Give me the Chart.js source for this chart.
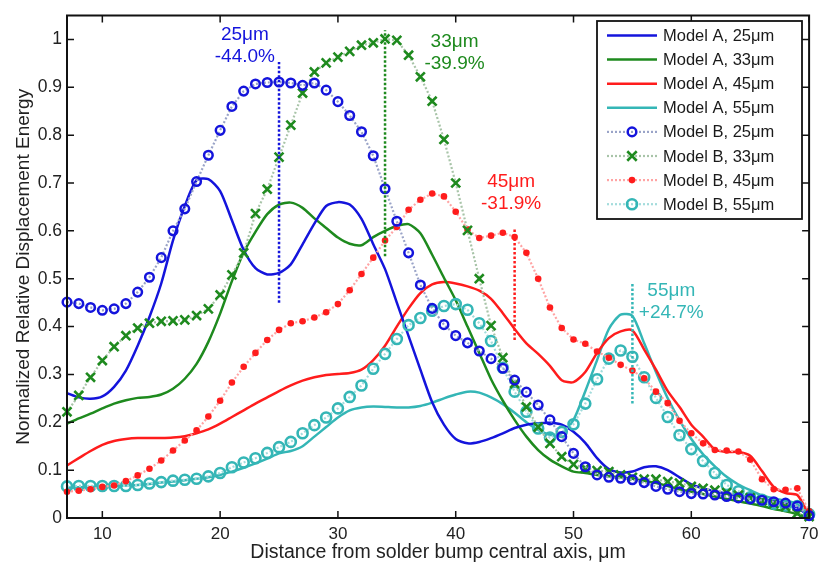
<!DOCTYPE html>
<html>
<head>
<meta charset="utf-8">
<script src="https://cdn.jsdelivr.net/npm/chart.js@4.4.0/dist/chart.umd.min.js"></script>
<style>
html, body { margin: 0; padding: 0; background: #fff; }
</style>
</head>
<body>
<canvas id="chartEnergia" width="818" height="564"></canvas>
<script>
// distancia desde el eje del bump (um)
const distancia = [7,8,9,10,11,12,13,14,15,16,17,18,19,20,21,22,23,24,25,26,27,28,29,30,31,32,33,34,35,36,37,38,39,40,41,42,43,44,45,46,47,48,49,50,51,52,53,54,55,56,57,58,59,60,61,62,63,64,65,66,67,68,69,70]

// Model A (curvas continuas)
const modeloA25 = [0.261,0.252,0.249,0.254,0.274,0.308,0.360,0.420,0.490,0.580,
    0.652,0.706,0.708,0.683,0.622,0.560,0.522,0.509,0.512,0.530,
    0.572,0.615,0.652,0.660,0.655,0.625,0.572,0.520,0.450,0.380,
    0.310,0.242,0.195,0.165,0.156,0.159,0.167,0.177,0.188,0.195,
    0.198,0.199,0.195,0.180,0.157,0.125,0.102,0.095,0.097,0.106,
    0.108,0.100,0.085,0.070,0.062,0.056,0.051,0.047,0.043,0.039,
    0.035,0.030,0.022,0.003]
const modeloA33 = [0.197,0.208,0.218,0.229,0.239,0.246,0.251,0.253,0.258,0.270,
    0.291,0.322,0.368,0.427,0.495,0.555,0.598,0.635,0.655,0.659,
    0.648,0.626,0.606,0.586,0.573,0.570,0.587,0.600,0.610,0.614,
    0.595,0.550,0.502,0.455,0.400,0.345,0.290,0.245,0.205,0.170,
    0.142,0.122,0.108,0.097,0.094,0.090,0.087,0.085,0.082,0.078,
    0.073,0.067,0.060,0.055,0.050,0.045,0.040,0.035,0.030,0.025,
    0.019,0.014,0.008,0.001]
const modeloA45 = [0.110,0.125,0.140,0.153,0.161,0.165,0.167,0.167,0.167,0.168,
    0.171,0.177,0.185,0.197,0.211,0.225,0.239,0.252,0.265,0.277,
    0.287,0.294,0.299,0.301,0.303,0.310,0.330,0.360,0.400,0.438,
    0.470,0.488,0.493,0.490,0.484,0.475,0.458,0.428,0.395,0.365,
    0.343,0.318,0.288,0.284,0.305,0.345,0.376,0.390,0.392,0.352,
    0.310,0.265,0.232,0.195,0.170,0.143,0.138,0.138,0.130,0.098,
    0.065,0.052,0.048,0.005]
const modeloA55 = [0.063,0.064,0.065,0.066,0.067,0.068,0.069,0.071,0.074,0.076,
    0.079,0.082,0.085,0.090,0.097,0.105,0.114,0.124,0.135,0.140,
    0.150,0.170,0.190,0.210,0.225,0.231,0.233,0.232,0.231,0.231,
    0.234,0.241,0.250,0.258,0.264,0.262,0.252,0.238,0.220,0.200,
    0.184,0.174,0.177,0.205,0.265,0.330,0.395,0.425,0.422,0.365,
    0.305,0.250,0.204,0.165,0.133,0.108,0.086,0.070,0.058,0.047,
    0.041,0.036,0.029,0.003]

// Model B (marcadores)
const modeloB25 = [0.451,0.448,0.440,0.434,0.437,0.448,0.472,0.503,0.544,0.600,
    0.646,0.703,0.758,0.810,0.860,0.892,0.907,0.910,0.911,0.909,
    0.904,0.909,0.894,0.870,0.841,0.807,0.757,0.688,0.620,0.554,
    0.487,0.438,0.404,0.381,0.366,0.349,0.333,0.313,0.288,0.263,
    0.236,0.205,0.170,0.135,0.107,0.090,0.085,0.083,0.080,0.074,
    0.066,0.060,0.055,0.051,0.050,0.048,0.045,0.042,0.040,0.037,
    0.034,0.031,0.025,0.005]
const modeloB33 = [0.222,0.256,0.294,0.329,0.358,0.381,0.397,0.407,0.411,0.412,
    0.414,0.423,0.437,0.466,0.508,0.554,0.636,0.687,0.754,0.821,
    0.888,0.932,0.951,0.963,0.975,0.988,0.993,1.001,0.998,0.967,
    0.922,0.871,0.791,0.700,0.601,0.500,0.402,0.335,0.281,0.232,
    0.190,0.156,0.128,0.112,0.104,0.099,0.097,0.090,0.085,0.081,
    0.081,0.076,0.073,0.066,0.062,0.058,0.053,0.048,0.042,0.036,
    0.030,0.024,0.010,0.003]
const modeloB45 = [0.055,0.057,0.060,0.065,0.068,0.077,0.089,0.103,0.120,0.141,
    0.162,0.183,0.212,0.245,0.283,0.316,0.345,0.372,0.393,0.407,
    0.411,0.419,0.430,0.447,0.476,0.510,0.544,0.580,0.608,0.644,
    0.665,0.678,0.672,0.640,0.603,0.585,0.590,0.596,0.587,0.554,
    0.500,0.440,0.397,0.373,0.364,0.348,0.335,0.320,0.308,0.292,
    0.264,0.240,0.203,0.177,0.156,0.142,0.141,0.139,0.122,0.081,
    0.060,0.059,0.062,0.014]
const modeloB55 = [0.066,0.067,0.067,0.067,0.067,0.067,0.069,0.072,0.075,0.078,
    0.080,0.082,0.087,0.094,0.106,0.116,0.125,0.136,0.148,0.159,
    0.177,0.194,0.210,0.229,0.253,0.277,0.312,0.343,0.374,0.403,
    0.418,0.433,0.443,0.447,0.435,0.407,0.370,0.314,0.264,0.222,
    0.187,0.168,0.180,0.196,0.239,0.290,0.333,0.350,0.337,0.294,
    0.251,0.211,0.173,0.144,0.119,0.094,0.069,0.056,0.043,0.038,
    0.030,0.026,0.025,0.008]

// marcas verticales punteadas y sus textos
const marcaX = [25, 34, 45, 55]
const marcaArriba = [0.953, 1.019, 0.606, 0.492]
const marcaAbajo = [0.450, 0.547, 0.372, 0.239]
const marcaTexto = [['25\u03bcm', '-44.0%'], ['33\u03bcm', '-39.9%'], ['45\u03bcm', '-31.9%'], ['55\u03bcm', '+24.7%']]
const textoX = [22.1, 39.9, 44.7, 58.3]
const textoY = [1.009, 0.995, 0.702, 0.474]

const xTicks = [10, 20, 30, 40, 50, 60, 70]
const yTicks = [0, 0.1, 0.2, 0.3, 0.4, 0.5, 0.6, 0.7, 0.8, 0.9, 1]
const yTickLabels = ['0', '0.1', '0.2', '0.3', '0.4', '0.5', '0.6', '0.7', '0.8', '0.9', '1']

const azul = '#1414dc'
const verde = '#1e8a1e'
const rojo = '#ff1c1c'
const cian = '#34b6b6'

const puntos = (valores) => valores.map((v, i) => ({ x: distancia[i], y: v }))

const lineaA = (label, valores, color) => ({
    label, data: puntos(valores), borderColor: color, backgroundColor: color,
    borderWidth: 2.5, pointRadius: 0, tension: 0.25, order: 2, tipo: 'linea'
})

const lineaB = (label, valores, color, colorLinea, estilo, radio, ancho, relleno) => ({
    label, data: puntos(valores), borderColor: colorLinea, borderWidth: 2.2, borderDash: [2, 2],
    pointStyle: estilo, pointRadius: radio, pointBorderColor: color, pointBorderWidth: ancho,
    pointBackgroundColor: relleno, tension: 0, order: 1, clip: false, tipo: 'marca'
})

const datasets = [
    lineaA('Model A, 25\u03bcm', modeloA25, azul),
    lineaA('Model A, 33\u03bcm', modeloA33, verde),
    lineaA('Model A, 45\u03bcm', modeloA45, rojo),
    lineaA('Model A, 55\u03bcm', modeloA55, cian),
    lineaB('Model B, 25\u03bcm', modeloB25, azul, '#9aa4c8', 'circle', 4.3, 2.5, 'rgba(0,0,0,0)'),
    lineaB('Model B, 33\u03bcm', modeloB33, verde, '#a8c4a8', 'crossRot', 6.3, 2.6, 'rgba(0,0,0,0)'),
    lineaB('Model B, 45\u03bcm', modeloB45, rojo, '#ffa4a4', 'circle', 3.3, 0, rojo),
    lineaB('Model B, 55\u03bcm', modeloB55, cian, '#a4dcdc', 'circle', 5, 2.6, 'rgba(0,0,0,0)')
]

const coloresMarca = [azul, verde, rojo, cian]
marcaX.forEach((mx, i) => {
    datasets.push({
        label: 'marca' + i,
        data: [{ x: mx, y: marcaAbajo[i] }, { x: mx, y: marcaArriba[i] }],
        borderColor: coloresMarca[i], borderWidth: 2.5, borderDash: [2.5, 2],
        pointRadius: 0, order: 0, clip: false, tipo: 'anotacion'
    })
})

const fuente = '"Liberation Sans", Arial, sans-serif'
Chart.defaults.font.family = fuente
Chart.defaults.color = '#222'

const dibujarMarca = (ctx, ds, x, y) => {
    ctx.save()
    ctx.strokeStyle = ds.pointBorderColor
    ctx.fillStyle = ds.pointBackgroundColor
    ctx.lineWidth = ds.pointBorderWidth
    if (ds.pointStyle === 'crossRot') {
        const r = ds.pointRadius * 0.75
        ctx.beginPath()
        ctx.moveTo(x - r, y - r); ctx.lineTo(x + r, y + r)
        ctx.moveTo(x + r, y - r); ctx.lineTo(x - r, y + r)
        ctx.stroke()
    } else {
        ctx.beginPath()
        ctx.arc(x, y, ds.pointRadius, 0, Math.PI * 2)
        ctx.fill()
        if (ds.pointBorderWidth > 0) ctx.stroke()
    }
    ctx.restore()
}

const marcoEjes = {
    id: 'marcoEjes',
    afterDatasetsDraw(chart) {
        const { ctx, chartArea: a, scales } = chart
        const sx = scales.x, sy = scales.y
        ctx.save()
        ctx.strokeStyle = '#111'
        ctx.lineWidth = 1.5
        ctx.beginPath()
        xTicks.forEach(v => {
            const px = sx.getPixelForValue(v)
            ctx.moveTo(px, a.bottom); ctx.lineTo(px, a.bottom - 7)
            ctx.moveTo(px, a.top); ctx.lineTo(px, a.top + 7)
        })
        yTicks.forEach(v => {
            const py = sy.getPixelForValue(v)
            ctx.moveTo(a.left, py); ctx.lineTo(a.left + 7, py)
            ctx.moveTo(a.right, py); ctx.lineTo(a.right - 7, py)
        })
        ctx.stroke()
        ctx.lineWidth = 2
        ctx.strokeRect(a.left, a.top, a.right - a.left, a.bottom - a.top)

        // textos de las marcas
        ctx.font = '19px ' + fuente
        ctx.textAlign = 'center'
        ctx.textBaseline = 'middle'
        marcaTexto.forEach((lineas, i) => {
            ctx.fillStyle = coloresMarca[i]
            const px = sx.getPixelForValue(textoX[i])
            const py = sy.getPixelForValue(textoY[i])
            lineas.forEach((t, j) => ctx.fillText(t, px, py + j * 22))
        })
        ctx.restore()
    },
    afterDraw(chart) {
        const { ctx } = chart
        const series = chart.data.datasets.filter(d => d.tipo !== 'anotacion')
        ctx.save()
        ctx.fillStyle = '#fff'
        ctx.fillRect(597, 21, 205, 198)
        ctx.strokeStyle = '#111'
        ctx.lineWidth = 1.8
        ctx.strokeRect(597, 21, 205, 198)
        ctx.font = '16.5px ' + fuente
        ctx.textAlign = 'left'
        ctx.textBaseline = 'middle'
        series.forEach((ds, i) => {
            const y = 35.5 + i * 24.1
            ctx.save()
            ctx.strokeStyle = ds.borderColor
            ctx.lineWidth = ds.borderWidth
            if (ds.borderDash) ctx.setLineDash(ds.borderDash)
            ctx.beginPath()
            ctx.moveTo(607, y); ctx.lineTo(657, y)
            ctx.stroke()
            ctx.restore()
            if (ds.tipo === 'marca') dibujarMarca(ctx, ds, 632, y)
            ctx.fillStyle = '#1a1a1a'
            ctx.fillText(ds.label, 663, y + 1)
        })
        ctx.restore()
    }
}

const canvas = document.getElementById('chartEnergia')
const context = canvas.getContext('2d')

const chartEnergia = new Chart(context, {
    type: 'line',
    data: { datasets },
    plugins: [marcoEjes],
    options: {
        responsive: false,
        animation: false,
        devicePixelRatio: 1,
        layout: { padding: { top: 13, right: 8, left: 0, bottom: 0 } },
        plugins: { legend: { display: false }, tooltip: { enabled: false } },
        scales: {
            x: {
                type: 'linear', min: 7, max: 70,
                afterBuildTicks: s => { s.ticks = xTicks.map(v => ({ value: v })) },
                afterFit: s => { s.height = 46; s.paddingLeft = 0; s.paddingRight = 0 },
                grid: { display: false, drawTicks: false },
                border: { display: false },
                ticks: { font: { size: 17 }, padding: 6, maxRotation: 0, autoSkip: false, color: '#222' },
                title: {
                    display: true, text: 'Distance from solder bump central axis, \u03bcm',
                    font: { size: 19.5 }, color: '#222', padding: { top: 0, bottom: 0 }
                }
            },
            y: {
                type: 'linear', min: 0, max: 1.05,
                afterBuildTicks: s => { s.ticks = yTicks.map(v => ({ value: v })) },
                afterFit: s => { s.width = 67 },
                grid: { display: false, drawTicks: false },
                border: { display: false },
                ticks: { font: { size: 17.5 }, padding: 5, color: '#222', callback: (v, i) => yTickLabels[i] },
                title: {
                    display: true, text: 'Normalized Relative Displacement Energy',
                    font: { size: 19 }, color: '#222', padding: { top: 12, bottom: 0 }
                }
            }
        }
    }
})
</script>
</body>
</html>
